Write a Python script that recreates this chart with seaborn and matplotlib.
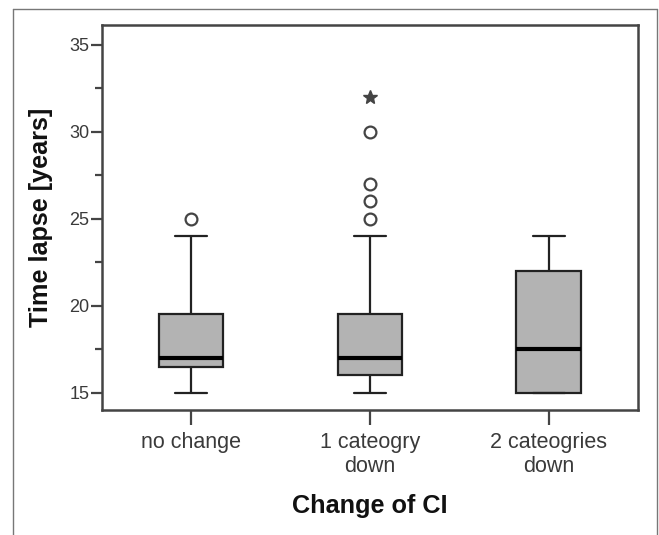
import numpy as np
import pandas as pd
import seaborn as sns
import matplotlib.pyplot as plt
from matplotlib.lines import Line2D
from matplotlib.ticker import MultipleLocator

# Values (years)
categories = ['no change', '1 cateogry\ndown', '2 cateogries\ndown']
no_change = [15, 16, 16.5, 16.5, 17, 18, 19.5, 24, 25]
one_down = [15, 15, 15.5, 16, 16, 16, 16, 16.5, 16.5, 16.5, 17, 17, 17,
            17.5, 18, 18, 18.5, 19, 19.5, 24, 25, 26, 27, 30, 32]
two_down = [15, 15, 17.5, 22, 24]
y_ticks = [15, 20, 25, 30, 35]

groups = [no_change, one_down, two_down]
df = pd.DataFrame({
    'change': np.repeat(categories, [len(g) for g in groups]),
    'years': np.concatenate(groups),
})

sns.set_style('ticks')
plt.rcParams['font.family'] = ['Liberation Sans', 'DejaVu Sans']

fig = plt.figure(figsize=(6.59, 5.35), dpi=100)
ax = fig.add_axes([0.1548, 0.2336, 0.8132, 0.7197])

sns.boxplot(data=df, x='change', y='years', order=categories, ax=ax,
            color='#b3b3b3', saturation=1, width=0.36, linewidth=1.6,
            linecolor='#222222', showfliers=False,
            medianprops=dict(color='black', linewidth=3))

# SPSS style outliers: circles beyond 1.5 IQR, stars beyond 3 IQR
for i, g in enumerate(groups):
    g = np.array(g)
    q1, q3 = np.percentile(g, [25, 75])
    iqr = q3 - q1
    mild = g[((g > q3 + 1.5 * iqr) & (g <= q3 + 3 * iqr)) |
             ((g < q1 - 1.5 * iqr) & (g >= q1 - 3 * iqr))]
    extreme = g[(g > q3 + 3 * iqr) | (g < q1 - 3 * iqr)]
    ax.plot([i] * len(mild), mild, 'o', mfc='white', mec='#444444',
            mew=1.6, ms=8.5, zorder=5)
    ax.plot([i] * len(extreme), extreme, '*', color='#444444',
            ms=10, zorder=5)

ax.set_xlim(-0.5, 2.5)
ax.set_ylim(14.0, 36.15)
ax.set_yticks(y_ticks)
ax.yaxis.set_minor_locator(MultipleLocator(2.5))

for s in ax.spines.values():
    s.set_visible(True)
    s.set_linewidth(1.8)
    s.set_color('#444444')

ax.tick_params(axis='y', which='major', length=8, width=1.6, color='#444444',
               labelsize=13, labelcolor='#3a3a3a', pad=1)
ax.tick_params(axis='y', which='minor', length=5, width=1.6, color='#444444')
ax.tick_params(axis='x', length=11, width=1.6, color='#444444',
               labelsize=15.5, labelcolor='#3a3a3a', pad=5)

ax.set_xlabel('Change of CI', fontsize=18.2, fontweight='bold', color='#111111')
ax.set_ylabel('Time lapse [years]', fontsize=18.2, fontweight='bold', color='#111111')
ax.xaxis.set_label_coords(0.5, -0.218)
ax.yaxis.set_label_coords(-0.091, 0.5)

# thin outer frame of the figure (left, top, right)
frame = dict(color='#777777', linewidth=1, transform=fig.transFigure)
fig.add_artist(Line2D([13 / 659, 13 / 659], [0, 1 - 9 / 535], **frame))
fig.add_artist(Line2D([13 / 659, 657 / 659], [1 - 9 / 535, 1 - 9 / 535], **frame))
fig.add_artist(Line2D([657 / 659, 657 / 659], [0, 1 - 9 / 535], **frame))

fig.savefig('out.png', dpi=100)
